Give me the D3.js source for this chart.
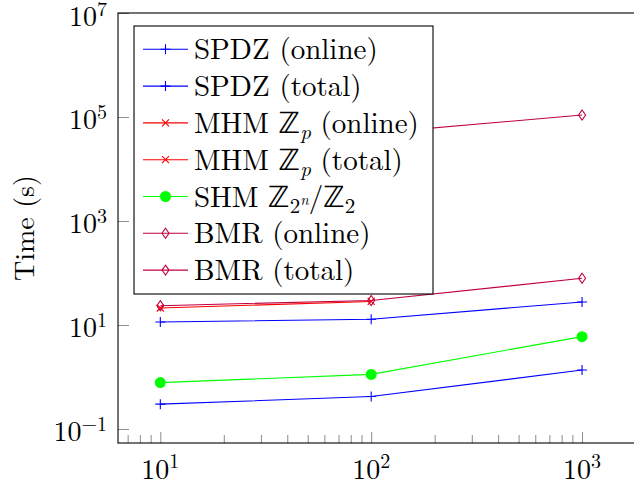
<!DOCTYPE html>
<html>
<head>
<meta charset="utf-8">
<script src="https://cdn.jsdelivr.net/npm/d3@7"></script>
<style>
  body { margin: 0; background: white; }
</style>
</head>
<body>
<svg id="drawing_region"></svg>
<script>
// input sizes (x) and timings in seconds (y)
const sizes = [10, 100, 1000];
const spdzOnline = [0.30, 0.42, 1.36];
const spdzTotal = [11.4, 12.9, 27.7];
const mhmOnline = [21.2, 28.3];
const mhmTotal = [1500, 12000];
const shm = [0.78, 1.12, 5.96];
const bmrOnline = [23.5, 29.6, 79];
const bmrTotal = [20000, 48500, 109000];

const xTicks = [10, 100, 1000];
const xMinorTicks = [7, 8, 9, 20, 30, 40, 50, 60, 70, 80, 90, 200, 300, 400, 500, 600, 700, 800, 900];
const yTicks = [0.1, 10, 1000, 100000, 10000000];

const series = [
    { label: 'SPDZ (online)', values: spdzOnline, color: '#0000ff', marker: 'plus' },
    { label: 'SPDZ (total)', values: spdzTotal, color: '#0000ff', marker: 'plus' },
    { label: 'MHM ℤp (online)', values: mhmOnline, color: '#ff0000', marker: 'cross' },
    { label: 'MHM ℤp (total)', values: mhmTotal, color: '#ff0000', marker: 'cross' },
    { label: 'SHM', values: shm, color: '#00ff00', marker: 'dot' },
    { label: 'BMR (online)', values: bmrOnline, color: '#bf0040', marker: 'diamond' },
    { label: 'BMR (total)', values: bmrTotal, color: '#bf0040', marker: 'diamond' },
];

const FONT = '"Latin Modern Roman", "Liberation Serif", "DejaVu Sans", serif';

class LogLogPlot {

    constructor( config, data ) {
        this.config = {
            parent: config.parent,
            width: config.width || 634,
            height: config.height || 485,
            margin: config.margin || {top: 13, right: -16, bottom: 42, left: 118},
        }
        this.data = data;
        this.init();
    }

    init() {
        let self = this;

        self.svg = d3.select( self.config.parent )
            .attr('width', self.config.width)
            .attr('height', self.config.height)
            .style('font-family', FONT)
            .style('display', 'block');

        self.inner_width = self.config.width - self.config.margin.left - self.config.margin.right;
        self.inner_height = self.config.height - self.config.margin.top - self.config.margin.bottom;

        self.chart = self.svg.append('g')
            .attr('transform', `translate(${self.config.margin.left}, ${self.config.margin.top})`);

        self.xscale = d3.scaleLog()
            .domain([6.3, 2100])
            .range([0, self.inner_width]);

        self.yscale = d3.scaleLog()
            .domain([0.0537, 1e7])
            .range([self.inner_height, 0]);

        self.line = d3.line()
            .x( d => self.xscale(d.x) )
            .y( d => self.yscale(d.y) );
    }

    update() {
        let self = this;
        self.points = self.data.map( s => s.values.map( (v, i) => ({ x: sizes[i], y: v }) ) );
        self.render();
    }

    marker( sel, type, color ) {
        if (type == 'dot') {
            sel.append('circle').attr('r', 5.5).attr('fill', color);
            return;
        }
        const paths = {
            plus: 'M-5,0H5M0,-5V5',
            cross: 'M-3.5,-3.5L3.5,3.5M-3.5,3.5L3.5,-3.5',
            diamond: 'M0,-5L3.5,0L0,5L-3.5,0Z',
        };
        sel.append('path')
            .attr('d', paths[type])
            .attr('fill', 'none')
            .attr('stroke', color)
            .attr('stroke-width', 1.1);
    }

    render() {
        let self = this;
        const tickColor = '#8c8c8c';

        // ticks
        self.chart.append('g')
            .attr('transform', `translate(0, ${self.inner_height})`)
            .call( d3.axisBottom(self.xscale).tickValues(xMinorTicks).tickSize(-8).tickFormat('') )
            .call( g => g.select('.domain').remove() )
            .selectAll('line').attr('stroke', tickColor);

        self.chart.append('g')
            .attr('transform', `translate(0, ${self.inner_height})`)
            .call( d3.axisBottom(self.xscale).tickValues(xTicks).tickSize(-11).tickFormat('') )
            .call( g => g.select('.domain').remove() )
            .selectAll('line').attr('stroke', tickColor);

        self.chart.append('g')
            .call( d3.axisLeft(self.yscale).tickValues(yTicks).tickSize(-11).tickFormat('') )
            .call( g => g.select('.domain').remove() )
            .selectAll('line').attr('stroke', tickColor);

        // frame
        self.chart.append('rect')
            .attr('width', self.inner_width)
            .attr('height', self.inner_height)
            .attr('fill', 'none')
            .attr('stroke', 'black')
            .attr('stroke-width', 1.1);

        // tick labels
        const xl = self.chart.selectAll('.xlabel')
            .data(xTicks)
            .enter()
            .append('text')
            .style('font-family', FONT)
            .attr('x', d => self.xscale(d))
            .attr('y', self.inner_height + 36)
            .attr('text-anchor', 'middle')
            .attr('font-size', '28px');
        xl.append('tspan').text('10');
        xl.append('tspan').attr('dy', -11).attr('font-size', '20px')
            .text( d => String(Math.round(Math.log10(d))).replace('-', '\u2212') );

        const yl = self.chart.selectAll('.ylabel')
            .data(yTicks)
            .enter()
            .append('text')
            .style('font-family', FONT)
            .attr('x', -11)
            .attr('y', d => self.yscale(d) + 12.5)
            .attr('text-anchor', 'end')
            .attr('font-size', '28px');
        yl.append('tspan').text('10');
        yl.append('tspan').attr('dy', -10).attr('font-size', '20px')
            .text( d => String(Math.round(Math.log10(d))).replace('-', '\u2212') );

        self.svg.append('text')
            .style('font-family', FONT)
            .attr('transform', `translate(34, ${self.config.margin.top + self.inner_height / 2}) rotate(-90)`)
            .attr('text-anchor', 'middle')
            .attr('font-size', '28px')
            .text('Time (s)');

        // lines and markers
        self.data.forEach( (s, i) => {
            self.chart.append('path')
                .datum( self.points[i] )
                .attr('d', self.line)
                .attr('fill', 'none')
                .attr('stroke', s.color)
                .attr('stroke-width', 1.1);

            self.chart.selectAll(null)
                .data( self.points[i] )
                .enter()
                .append('g')
                .attr('transform', d => `translate(${self.xscale(d.x)}, ${self.yscale(d.y)})`)
                .each( function() { self.marker( d3.select(this), s.marker, s.color ); } );
        });

        // legend
        const legend = self.chart.append('g')
            .attr('transform', 'translate(16, 13)');

        legend.append('rect')
            .attr('width', 299)
            .attr('height', 268)
            .attr('fill', 'white')
            .attr('stroke', 'black')
            .attr('stroke-width', 1.1);

        const row = legend.selectAll('.row')
            .data( self.data )
            .enter()
            .append('g')
            .attr('transform', (d, i) => `translate(0, ${23.3 + i * 36.8})`);

        row.append('line')
            .attr('x1', 9).attr('x2', 54)
            .attr('stroke', d => d.color)
            .attr('stroke-width', 1.1);

        row.append('g')
            .attr('transform', 'translate(31.5, 0)')
            .each( function(d) { self.marker( d3.select(this), d.marker, d.color ); } );

        const label = row.append('text')
            .style('font-family', FONT)
            .attr('x', 60)
            .attr('y', 10)
            .attr('font-size', '29px');

        label.each( function(d) {
            const t = d3.select(this);
            if (d.label.startsWith('MHM')) {
                t.append('tspan').text('MHM ℤ');
                t.append('tspan').attr('dy', 6).attr('font-size', '21px').attr('font-style', 'italic').text('p');
                t.append('tspan').attr('dy', -6).text(d.label.slice(6));
            } else if (d.label == 'SHM') {
                t.append('tspan').text('SHM ℤ');
                t.append('tspan').attr('dy', 6).attr('font-size', '21px').text('2');
                t.append('tspan').attr('dy', -8).attr('font-size', '15px').attr('font-style', 'italic').text('n');
                t.append('tspan').attr('dy', 2).text('/ℤ');
                t.append('tspan').attr('dy', 6).attr('font-size', '21px').text('2');
            } else {
                t.text(d.label);
            }
        });
    }
}

const plot = new LogLogPlot( { parent: '#drawing_region', width: 634, height: 485 }, series );
plot.update();
</script>
</body>
</html>
